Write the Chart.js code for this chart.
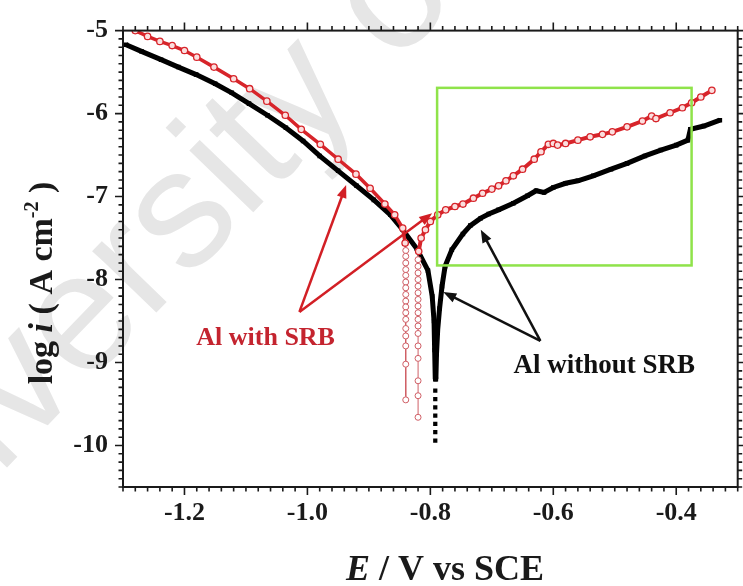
<!DOCTYPE html>
<html><head><meta charset="utf-8">
<script src="https://cdn.jsdelivr.net/npm/chart.js@4.4.0/dist/chart.umd.min.js"></script>
<style>html,body{margin:0;padding:0;background:#fff;}#wrap{width:743px;height:586px;position:relative;}</style>
</head><body><div id="wrap"><canvas id="c" width="743" height="586"></canvas></div>
<script>
// ---- tick labels ----
const xTickValues = [-1.2, -1.0, -0.8, -0.6, -0.4];
const xTickLabels = ['-1.2', '-1.0', '-0.8', '-0.6', '-0.4'];
const yTickValues = [-5, -6, -7, -8, -9, -10];
const yTickLabels = ['-5', '-6', '-7', '-8', '-9', '-10'];

// ---- Al without SRB (black) ----
const blackCathE    = [-1.295,-1.27,-1.238,-1.21,-1.181,-1.15,-1.123,-1.095,-1.065,-1.035,-1.007,-0.98,-0.95,-0.92,-0.892,-0.865,-0.845,-0.822,-0.804,-0.797,-0.794,-0.793,-0.792];
const blackCathLogI = [-5.17,-5.25,-5.35,-5.44,-5.53,-5.64,-5.75,-5.88,-6.02,-6.17,-6.33,-6.51,-6.69,-6.87,-7.04,-7.22,-7.40,-7.63,-7.89,-8.20,-8.50,-8.85,-9.20];
const blackTailE    = [-0.792,-0.792,-0.792,-0.792,-0.792,-0.792,-0.792];
const blackTailLogI = [-9.34,-9.44,-9.54,-9.64,-9.74,-9.84,-9.94];
const blackAnodE    = [-0.791,-0.790,-0.788,-0.785,-0.781,-0.776,-0.765,-0.747,-0.735,-0.718,-0.705,-0.689,-0.665,-0.642,-0.628,-0.615,-0.60,-0.58,-0.56,-0.535,-0.506,-0.48,-0.451,-0.425,-0.40,-0.381,-0.377,-0.355,-0.329];
const blackAnodLogI = [-9.20,-8.90,-8.60,-8.35,-8.08,-7.84,-7.64,-7.45,-7.35,-7.26,-7.21,-7.16,-7.08,-6.99,-6.93,-6.95,-6.89,-6.84,-6.81,-6.75,-6.67,-6.60,-6.51,-6.44,-6.38,-6.32,-6.19,-6.15,-6.08];

// ---- Al with SRB (red) ----
const redCathE    = [-1.28,-1.26,-1.24,-1.22,-1.20,-1.18,-1.152,-1.12,-1.094,-1.066,-1.036,-1.01,-0.979,-0.95,-0.921,-0.898,-0.874,-0.858,-0.845,-0.841];
const redCathLogI = [-5.00,-5.07,-5.13,-5.18,-5.24,-5.32,-5.44,-5.58,-5.70,-5.85,-6.02,-6.19,-6.37,-6.55,-6.73,-6.90,-7.09,-7.22,-7.38,-7.56];
const redCathTailE    = [-0.841,-0.840,-0.840,-0.840,-0.840,-0.840,-0.840,-0.840,-0.840,-0.840,-0.840,-0.840,-0.840,-0.840,-0.840,-0.840,-0.840,-0.840];
const redCathTailLogI = [-7.56,-7.65,-7.72,-7.80,-7.88,-7.95,-8.03,-8.10,-8.18,-8.26,-8.33,-8.40,-8.48,-8.59,-8.68,-8.80,-9.02,-9.45];
const redAnodTailE    = [-0.820,-0.820,-0.820,-0.820,-0.820,-0.820,-0.820,-0.820,-0.820,-0.820,-0.820,-0.820,-0.820,-0.820,-0.820,-0.820,-0.820,-0.819];
const redAnodTailLogI = [-9.66,-9.40,-9.22,-8.95,-8.80,-8.65,-8.56,-8.48,-8.40,-8.32,-8.24,-8.16,-8.08,-8.00,-7.92,-7.84,-7.76,-7.66];
const redAnodE    = [-0.819,-0.815,-0.808,-0.800,-0.788,-0.775,-0.76,-0.747,-0.73,-0.715,-0.70,-0.689,-0.677,-0.665,-0.65,-0.631,-0.62,-0.608,-0.600,-0.593,-0.58,-0.56,-0.54,-0.52,-0.504,-0.48,-0.455,-0.44,-0.433,-0.41,-0.39,-0.375,-0.36,-0.342];
const redAnodLogI = [-7.66,-7.50,-7.40,-7.30,-7.22,-7.16,-7.12,-7.09,-7.02,-6.96,-6.91,-6.87,-6.81,-6.75,-6.67,-6.55,-6.46,-6.37,-6.36,-6.38,-6.36,-6.32,-6.28,-6.25,-6.22,-6.16,-6.09,-6.03,-6.06,-5.99,-5.93,-5.87,-5.80,-5.72];

// ---- annotations (data coordinates) ----
const greenBoxE = [-0.789, -0.375];
const greenBoxLogI = [-5.69, -7.83];
const redArrowFrom = [-1.013, -8.39];
const redArrowTips = [[-0.937, -6.86], [-0.797, -7.20]];
const blackArrowFrom = [-0.621, -8.74];
const blackArrowTips = [[-0.718, -7.40], [-0.779, -8.15]];
const redLabel = {text: 'Al with SRB', e: -1.068, logi: -8.71};
const blackLabel = {text: 'Al without SRB', e: -0.517, logi: -9.04};
const watermarkText = 'University of';

const pts = (xs, ys) => xs.map((x, i) => ({x, y: ys[i]}));
const RED = '#d7242a';
const PINK = '#cf5f66';
const SERIF = '"Liberation Serif", "Times New Roman", serif';

const deco = {
  id: 'deco',
  beforeDraw(chart) {
    const ctx = chart.ctx;
    ctx.save();
    ctx.fillStyle = '#e6e6e6';
    ctx.font = '168px "Liberation Sans", Arial, sans-serif';
    ctx.textBaseline = 'alphabetic'; ctx.textAlign = 'left';
    ctx.translate(-150, 630); ctx.rotate(-46 * Math.PI / 180);
    ctx.fillText(watermarkText, 0, 0);
    ctx.restore();
  },
  afterDatasetsDraw(chart) {
    const ctx = chart.ctx, xs = chart.scales.x, ys = chart.scales.y;
    const X = v => xs.getPixelForValue(v), Y = v => ys.getPixelForValue(v);
    ctx.save();
    ctx.strokeStyle = '#8fe34a'; ctx.lineWidth = 2.5;
    ctx.strokeRect(X(greenBoxE[0]), Y(greenBoxLogI[0]), X(greenBoxE[1]) - X(greenBoxE[0]), Y(greenBoxLogI[1]) - Y(greenBoxLogI[0]));
    const arrow = (from, to, color) => {
      const x0 = X(from[0]), y0 = Y(from[1]), x1 = X(to[0]), y1 = Y(to[1]);
      const a = Math.atan2(y1 - y0, x1 - x0), L = 13, W = 5;
      ctx.strokeStyle = color; ctx.fillStyle = color; ctx.lineWidth = 2.5;
      ctx.beginPath(); ctx.moveTo(x0, y0);
      ctx.lineTo(x1 - L * 0.8 * Math.cos(a), y1 - L * 0.8 * Math.sin(a)); ctx.stroke();
      ctx.beginPath(); ctx.moveTo(x1, y1);
      ctx.lineTo(x1 - L * Math.cos(a) + W * Math.sin(a), y1 - L * Math.sin(a) - W * Math.cos(a));
      ctx.lineTo(x1 - L * Math.cos(a) - W * Math.sin(a), y1 - L * Math.sin(a) + W * Math.cos(a));
      ctx.closePath(); ctx.fill();
    };
    redArrowTips.forEach(t => arrow(redArrowFrom, t, '#d21f25'));
    blackArrowTips.forEach(t => arrow(blackArrowFrom, t, '#111'));
    ctx.textAlign = 'center'; ctx.textBaseline = 'middle';
    ctx.font = 'bold 26px ' + SERIF;
    ctx.fillStyle = '#c4242f'; ctx.fillText(redLabel.text, X(redLabel.e), Y(redLabel.logi));
    ctx.font = 'bold 27px ' + SERIF;
    ctx.fillStyle = '#111'; ctx.fillText(blackLabel.text, X(blackLabel.e), Y(blackLabel.logi));
    ctx.restore();
  },
  afterDraw(chart) {
    const ctx = chart.ctx, xs = chart.scales.x, ys = chart.scales.y, ca = chart.chartArea;
    ctx.save();
    ctx.strokeStyle = '#1a1a1a'; ctx.lineWidth = 2;
    ctx.strokeRect(ca.left, ca.top, ca.right - ca.left, ca.bottom - ca.top);
    ctx.lineWidth = 1.6;
    ctx.beginPath();
    for (let k = -65; k <= -15; k++) {
      const px = xs.getPixelForValue(k * 0.02), len = (k % 10 === 0) ? 8 : 4.5;
      ctx.moveTo(px, ca.bottom); ctx.lineTo(px, ca.bottom + len);
      ctx.moveTo(px, ca.top); ctx.lineTo(px, ca.top - len);
    }
    for (let k = -105; k <= -50; k++) {
      const py = ys.getPixelForValue(k * 0.1), len = (k % 10 === 0) ? 8 : 4.5;
      ctx.moveTo(ca.left, py); ctx.lineTo(ca.left - len, py);
      ctx.moveTo(ca.right, py); ctx.lineTo(ca.right + len, py);
    }
    ctx.stroke();
    ctx.fillStyle = '#1a1a1a'; ctx.textBaseline = 'alphabetic'; ctx.textAlign = 'left';
    const segs = (list) => list.map(s => { ctx.font = s.f; return Object.assign({}, s, {w: ctx.measureText(s.t).width}); });
    const xt = segs([{t: 'E', f: 'italic bold 36px ' + SERIF, dy: 0}, {t: ' / V vs SCE', f: 'bold 36px ' + SERIF, dy: 0}]);
    let tw = xt.reduce((a, s) => a + s.w, 0), cx = 445 - tw / 2;
    xt.forEach(s => { ctx.font = s.f; ctx.fillText(s.t, cx, 580 + s.dy); cx += s.w; });
    const yt = segs([{t: 'log ', f: 'bold 34px ' + SERIF, dy: 0}, {t: 'i', f: 'italic bold 34px ' + SERIF, dy: 0},
      {t: ' ( A cm', f: 'bold 34px ' + SERIF, dy: 0}, {t: '-2', f: 'bold 20px ' + SERIF, dy: -14}, {t: ' )', f: 'bold 34px ' + SERIF, dy: 0}]);
    ctx.translate(52, 283); ctx.rotate(-Math.PI / 2);
    tw = yt.reduce((a, s) => a + s.w, 0); cx = -tw / 2;
    yt.forEach(s => { ctx.font = s.f; ctx.fillText(s.t, cx, s.dy); cx += s.w; });
    ctx.restore();
  }
};

new Chart(document.getElementById('c'), {
  type: 'scatter',
  data: {
    datasets: [
      {label: 'Al with SRB', data: pts(redCathE, redCathLogI), showLine: true, borderColor: RED, borderWidth: 3.5,
       pointStyle: 'circle', pointRadius: 3.2, pointBorderWidth: 1.3, pointBorderColor: RED, pointBackgroundColor: '#fbdede'},
      {label: 'Al with SRB', data: pts(redAnodE, redAnodLogI), showLine: true, borderColor: RED, borderWidth: 4,
       pointStyle: 'circle', pointRadius: 3.2, pointBorderWidth: 1.3, pointBorderColor: RED, pointBackgroundColor: '#fbdede'},
      {label: 'Al with SRB', data: pts(redCathTailE, redCathTailLogI), showLine: true, borderColor: PINK, borderWidth: 1,
       pointStyle: 'circle', pointRadius: 3, pointBorderWidth: 1, pointBorderColor: PINK, pointBackgroundColor: '#fff'},
      {label: 'Al with SRB', data: pts(redAnodTailE, redAnodTailLogI), showLine: true, borderColor: PINK, borderWidth: 1,
       pointStyle: 'circle', pointRadius: 3, pointBorderWidth: 1, pointBorderColor: PINK, pointBackgroundColor: '#fff'},
      {label: 'Al without SRB', data: pts(blackCathE, blackCathLogI), showLine: true, borderColor: '#000', borderWidth: 5,
       pointStyle: 'rect', pointRadius: 3.2, pointBorderWidth: 0, pointBackgroundColor: '#000'},
      {label: 'Al without SRB', data: pts(blackAnodE, blackAnodLogI), showLine: true, borderColor: '#000', borderWidth: 5,
       pointStyle: 'rect', pointRadius: 3.2, pointBorderWidth: 0, pointBackgroundColor: '#000'},
      {label: 'Al without SRB', data: pts(blackTailE, blackTailLogI), showLine: false,
       pointStyle: 'rect', pointRadius: 3, pointBorderWidth: 0, pointBackgroundColor: '#000'}
    ]
  },
  options: {
    responsive: false, animation: false, devicePixelRatio: 1,
    layout: {padding: {top: 27, right: 3, left: 0, bottom: 0}},
    plugins: {legend: {display: false}, tooltip: {enabled: false}},
    scales: {
      x: {
        type: 'linear', min: -1.3, max: -0.3,
        afterBuildTicks: s => { s.ticks = xTickValues.map(v => ({value: v})); },
        afterFit: s => { s.height = 99; },
        grid: {display: false, drawTicks: false},
        border: {display: false},
        ticks: {padding: 11, color: '#1a1a1a', font: {family: SERIF, size: 26, weight: 'bold'},
                callback: (v, i) => xTickLabels[i]}
      },
      y: {
        type: 'linear', min: -10.5, max: -5,
        afterBuildTicks: s => { s.ticks = yTickValues.map(v => ({value: v})); },
        afterFit: s => { s.width = 123; },
        grid: {display: false, drawTicks: false},
        border: {display: false},
        ticks: {padding: 15, color: '#1a1a1a', font: {family: SERIF, size: 26, weight: 'bold'},
                callback: (v, i) => yTickLabels[i]}
      }
    }
  },
  plugins: [deco]
});
</script>
</body></html>
